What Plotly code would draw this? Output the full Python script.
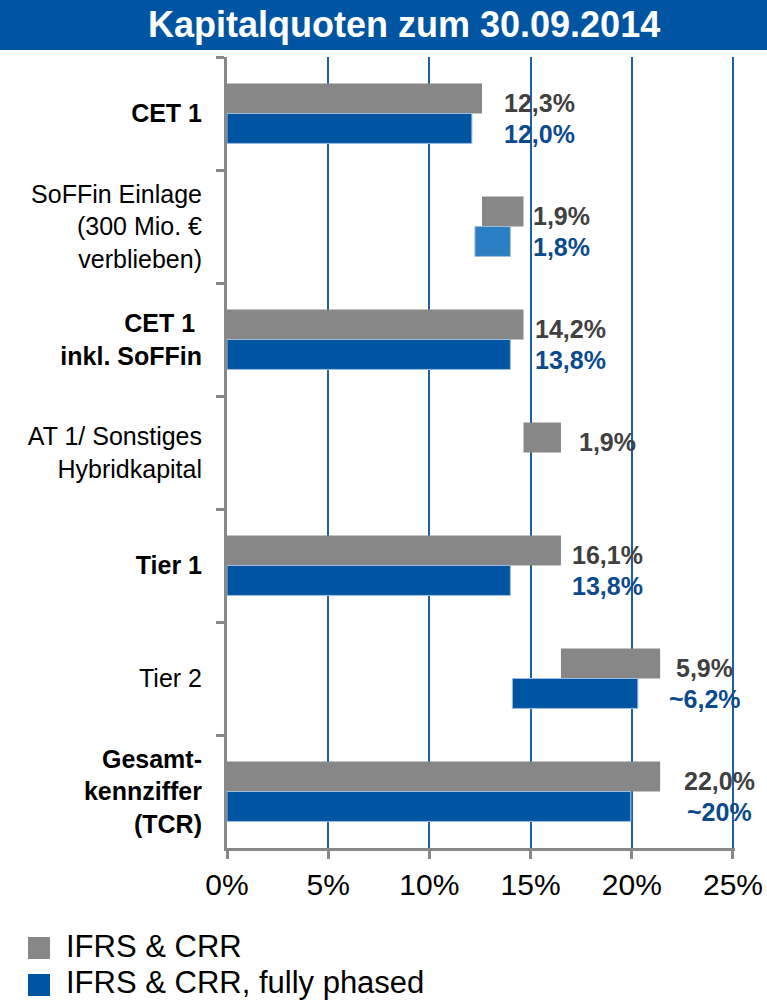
import plotly.graph_objects as go

# ---------------- data ----------------
categories = [
    "<b>CET 1</b>",
    "SoFFin Einlage<br>(300 Mio. €<br>verblieben)",
    "<b>CET 1 </b><br><b>inkl. SoFFin</b>",
    "AT 1/ Sonstiges<br>Hybridkapital",
    "<b>Tier 1</b>",
    "Tier 2",
    "<b>Gesamt-</b><br><b>kennziffer</b><br><b>(TCR)</b>",
]
# IFRS & CRR (grey) bar start / end in %
grey_start = [0, 12.6, 0, 14.65, 0, 16.5, 0]
grey_end = [12.6, 14.65, 14.65, 16.5, 16.5, 21.4, 21.4]
# IFRS & CRR, fully phased (blue) bar start / end in %
blue_start = [0, 12.25, 0, None, 0, 14.1, 0]
blue_end = [12.1, 14.0, 14.0, None, 14.0, 20.3, 19.95]

grey_labels = ["12,3%", "1,9%", "14,2%", "1,9%", "16,1%", "5,9%", "22,0%"]
blue_labels = ["12,0%", "1,8%", "13,8%", "", "13,8%", "~6,2%", "~20%"]
label_x = [15.45, 16.55, 16.95, 18.8, 18.8, 23.6, 24.35]

series_names = ["IFRS & CRR", "IFRS & CRR, fully phased"]
x_ticks = [0, 5, 10, 15, 20, 25]
x_tick_text = ["0%", "5%", "10%", "15%", "20%", "25%"]
title_text = "Kapitalquoten zum 30.09.2014"

# ---------------- styles ----------------
GREY = "#878787"
BLUE = "#0055A2"
LIGHT_BLUE = "#2A80C2"
GREY_TXT = "#404040"
BLUE_TXT = "#0B4A8C"
FONT = "Liberation Sans, Arial, sans-serif"

W, H = 767, 1001
L, R, T, B = 227, 32, 57, 153


def px(x):
    return (x - L) / (W - L - R)


def py(y):
    return (H - B - y) / (H - T - B)


def lengths(s, e):
    return [None if a is None else b - a for a, b in zip(s, e)]


blue_colors = [LIGHT_BLUE if "SoFFin Einlage" in c else BLUE for c in categories]

fig = go.Figure()
fig.add_trace(go.Bar(
    y=categories, x=lengths(grey_start, grey_end), base=grey_start,
    orientation="h", name=series_names[0], marker=dict(color=GREY, line=dict(width=0)),
    hoverinfo="skip",
))
fig.add_trace(go.Bar(
    y=categories, x=lengths(blue_start, blue_end), base=blue_start,
    orientation="h", name=series_names[1],
    marker=dict(color=blue_colors, line=dict(width=1, color="#9DBDE0")),
    hoverinfo="skip",
))

annotations = []
for cat, gl, bl, lx in zip(categories, grey_labels, blue_labels, label_x):
    annotations.append(dict(x=lx, y=cat, xref="x", yref="y", text=f"<b>{gl}</b>",
                            showarrow=False, xanchor="center", yanchor="middle",
                            yshift=11, font=dict(family=FONT, size=25, color=GREY_TXT)))
    if bl:
        annotations.append(dict(x=lx, y=cat, xref="x", yref="y", text=f"<b>{bl}</b>",
                                showarrow=False, xanchor="center", yanchor="middle",
                                yshift=-20, font=dict(family=FONT, size=25, color=BLUE_TXT)))

# title
annotations.append(dict(x=px(404), y=py(25), xref="paper", yref="paper",
                        text=f"<b>{title_text}</b>", showarrow=False,
                        xanchor="center", yanchor="middle",
                        font=dict(family=FONT, size=36, color="white")))
# legend texts
for name, yy in zip(series_names, [947, 983]):
    annotations.append(dict(x=px(64), y=py(yy), xref="paper", yref="paper",
                            text=name, showarrow=False, xanchor="left", yanchor="middle",
                            font=dict(family=FONT, size=31, color="black")))

shapes = [
    dict(type="rect", xref="paper", yref="paper", x0=px(-5), x1=px(W + 5),
         y0=py(50), y1=py(-5), fillcolor=BLUE, line=dict(width=0), layer="below"),
    dict(type="rect", xref="paper", yref="paper", x0=px(28), x1=px(50),
         y0=py(959), y1=py(937), fillcolor=GREY, line=dict(width=0)),
    dict(type="rect", xref="paper", yref="paper", x0=px(28), x1=px(50),
         y0=py(996), y1=py(974), fillcolor=BLUE, line=dict(width=0)),
]

fig.update_layout(
    width=W, height=H, autosize=False,
    margin=dict(l=L, r=R, t=T, b=B, pad=0, autoexpand=False),
    paper_bgcolor="white", plot_bgcolor="white",
    barmode="group", bargap=0.47, bargroupgap=0,
    showlegend=False,
    annotations=annotations, shapes=shapes,
    font=dict(family=FONT, color="black"),
    xaxis=dict(
        range=[0, 25.1], tickvals=x_ticks, ticktext=x_tick_text,
        showgrid=True, gridcolor="#1F5FA8", gridwidth=2, zeroline=False,
        showline=True, linecolor="#888888", linewidth=3,
        ticks="outside", ticklen=8, tickwidth=3, tickcolor="#888888",
        tickfont=dict(family=FONT, size=30, color="black"),
        fixedrange=True, automargin=False,
    ),
    yaxis=dict(
        autorange="reversed", type="category",
        showgrid=False, zeroline=False,
        showline=True, linecolor="#888888", linewidth=3,
        ticks="outside", ticklen=8, tickwidth=3, tickcolor="#888888",
        tickson="boundaries", ticklabelstandoff=17,
        tickfont=dict(family=FONT, size=25, color="black"),
        fixedrange=True, automargin=False,
    ),
)

fig.write_html(
    "out.html",
    config={"displayModeBar": False, "responsive": False},
    post_script="document.body.style.margin='0';document.body.style.overflow='hidden';",
)
